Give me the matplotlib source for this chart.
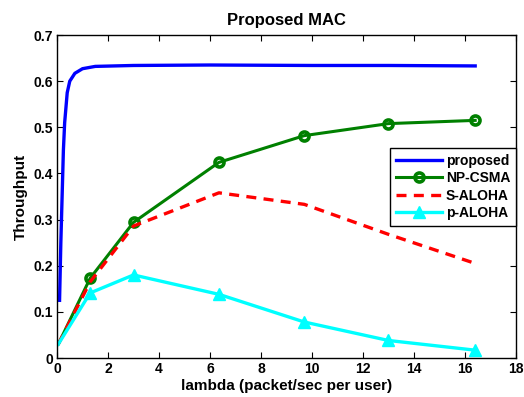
import matplotlib
matplotlib.use("Agg")
import matplotlib.pyplot as plt

plt.rcParams['font.family'] = ['Liberation Sans', 'DejaVu Sans']

# Data
prop_x = [0.1, 0.15, 0.2, 0.25, 0.3, 0.4, 0.5, 0.7, 1.0, 1.5, 3.0, 6.0, 10.0, 13.0, 16.4]
prop_y = [0.125, 0.25, 0.35, 0.45, 0.51, 0.575, 0.60, 0.617, 0.627, 0.632, 0.634, 0.635, 0.634, 0.634, 0.633]

lam = [0.05, 1.3, 3.0, 6.35, 9.7, 13.0, 16.4]
np_csma = [0.03, 0.173, 0.294, 0.424, 0.482, 0.508, 0.515]
s_aloha = [0.03, 0.165, 0.286, 0.358, 0.333, 0.268, 0.205]
p_aloha = [0.03, 0.141, 0.180, 0.138, 0.078, 0.038, 0.017]

xticks = [0, 2, 4, 6, 8, 10, 12, 14, 16, 18]
yticks = [0, 0.1, 0.2, 0.3, 0.4, 0.5, 0.6, 0.7]
ytick_labels = ['0', '0.1', '0.2', '0.3', '0.4', '0.5', '0.6', '0.7']

fig = plt.figure(figsize=(5.24, 3.97), dpi=100)
ax = fig.add_axes([0.1088, 0.0982, 0.8759, 0.8136])

ax.plot(prop_x, prop_y, color='#0000ff', lw=2.4, label='proposed')
ax.plot(lam, np_csma, color='#008000', lw=2.2, marker='o', markersize=6.5,
        markerfacecolor='none', markeredgewidth=2.6, markevery=slice(1, None),
        label='NP-CSMA')
ax.plot(lam, s_aloha, color='#ff0000', lw=2.4, ls=(0, (3, 2.2)), label='S-ALOHA')
ax.plot(lam, p_aloha, color='#00ffff', lw=2.4, marker='^', markersize=8.5,
        markevery=slice(1, None), label='p-ALOHA')

ax.set_xlim(0, 18)
ax.set_ylim(0, 0.7)
ax.set_xticks(xticks)
ax.set_xticklabels([str(v) for v in xticks])
ax.set_yticks(yticks)
ax.set_yticklabels(ytick_labels)
ax.tick_params(direction='in', length=4, width=0.8, top=True, right=True,
               labelsize=10, pad=3)
for lab in ax.get_xticklabels() + ax.get_yticklabels():
    lab.set_fontweight('bold')
for s in ax.spines.values():
    s.set_linewidth(1.0)

ax.set_xlabel('lambda (packet/sec per user)', fontsize=11, fontweight='bold', labelpad=2)
ax.set_ylabel('Throughput', fontsize=11, fontweight='bold', labelpad=4)
ax.set_title('Proposed MAC', fontsize=12, fontweight='bold', pad=7)

leg = ax.legend(loc='upper right', bbox_to_anchor=(1.0, 0.65), borderaxespad=0,
                fancybox=False, framealpha=1, edgecolor='black',
                prop={'weight': 'bold', 'size': 10}, handlelength=3.3,
                handletextpad=0.3, borderpad=0.4, labelspacing=0.25)
leg.get_frame().set_linewidth(1.0)

fig.savefig('out.png', dpi=100)
